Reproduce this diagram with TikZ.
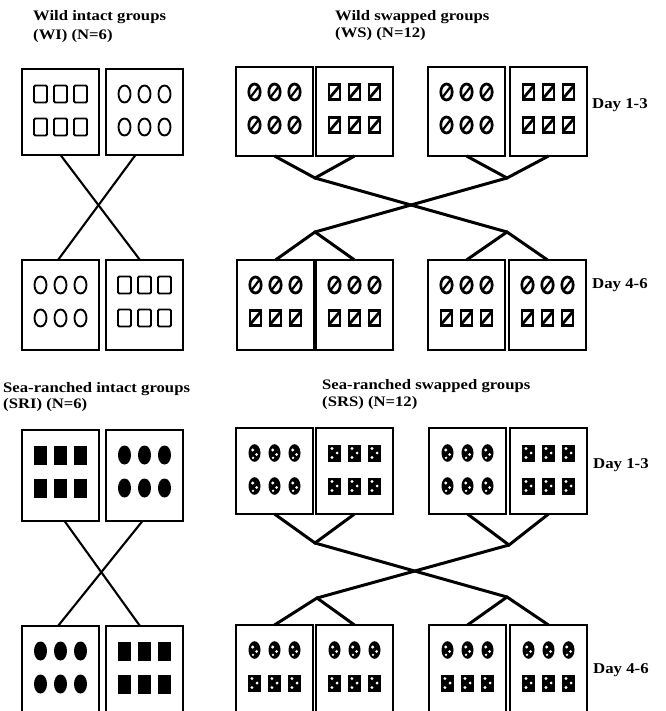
\documentclass[tikz,border=0pt]{standalone}
\usepackage{fontspec}
\setmainfont{Liberation Serif}
\newfontfamily\titlefont[FakeStretch=1.15]{Liberation Serif}
\newfontfamily\dayfont[FakeStretch=1.12]{Liberation Serif}
\usetikzlibrary{calc}
\tikzset{
 fbox/.style={draw, line width=1.9pt, minimum width=77pt, minimum height=#1, inner sep=0pt, outer sep=0pt, anchor=north west},
 ttl/.style={font=\titlefont\bfseries\fontsize{14.5}{16}\selectfont, anchor=base west, inner sep=0pt},
 daylbl/.style={font=\dayfont\bfseries\fontsize{15}{18}\selectfont, anchor=base west, inner sep=0pt},
 thinlink/.style={line width=2.1pt},
 thicklink/.style={line width=3pt, line join=miter},
}
\newcommand\symOR[2]{\draw[line width=1.9pt, rounded corners=1.2pt] ({#1-6.5},{#2-8.5}) rectangle ({#1+6.5},{#2+8.5});}
\newcommand\symOE[2]{\draw[line width=1.9pt] ({#1},{#2}) ellipse [x radius=6pt, y radius=8.5pt];}
\newcommand\symSE[2]{\draw[line width=2.7pt] ({#1},{#2}) ellipse [x radius=5.7pt, y radius=8pt]; \draw[line width=2.2pt] ({#1-4.2},{#2+5.5}) -- ({#1+4.2},{#2-5.5});}
\newcommand\symSR[2]{\draw[line width=2.8pt] ({#1-5.5},{#2-7.5}) rectangle ({#1+5.5},{#2+7.5}); \draw[line width=2.8pt] ({#1-5.5},{#2+6.5}) -- ({#1+5.5},{#2-6.5});}
\newcommand\symFR[2]{\fill ({#1-6.5},{#2-9.5}) rectangle ({#1+6.5},{#2+9.5});}
\newcommand\symFE[2]{\fill ({#1},{#2}) ellipse [x radius=6.5pt, y radius=9.5pt];}
\newcommand\symDE[2]{\fill ({#1},{#2}) ellipse [x radius=6pt, y radius=8.8pt]; \fill[white] ({#1-1.8},{#2-3}) circle [radius=1.7pt] ({#1+2.2},{#2+1.5}) circle [radius=1.5pt] ({#1-1.5},{#2+4.8}) circle [radius=1.3pt];}
\newcommand\symDR[2]{\fill ({#1-6.3},{#2-8.5}) rectangle ({#1+6.3},{#2+8.5}); \fill[white] ({#1-2.6},{#2-4.5}) circle [radius=1.6pt] ({#1+2.6},{#2}) circle [radius=1.6pt] ({#1-2.6},{#2+4.5}) circle [radius=1.6pt];}
\newcommand\fishbox[6]{%
  \node[fbox=#4pt] (#1) at (#2,#3) {};
  \foreach \cx in {-20,0,20}{%
    #5{#2+38.5+\cx}{#3+25}%
    #6{#2+38.5+\cx}{#3+58}%
  }%
}
\begin{document}
\begin{tikzpicture}[x=1pt,y=-1pt]
\useasboundingbox (0,0) rectangle (665,711);
\clip (0,0) rectangle (665,711);
% titles
\node[ttl] (tWI1) at (33,21) {Wild intact groups};
\node[ttl] (tWI2) at (33,40) {(WI) (N=6)};
\node[ttl] (tWS1) at (335,21) {Wild swapped groups};
\node[ttl] (tWS2) at (335,38) {(WS) (N=12)};
\node[ttl] (tSRI1) at (3,392) {Sea-ranched intact groups};
\node[ttl] (tSRI2) at (3,408) {(SRI) (N=6)};
\node[ttl] (tSRS1) at (322,389) {Sea-ranched swapped groups};
\node[ttl] (tSRS2) at (322,406) {(SRS) (N=12)};
% day labels
\node[daylbl] (d1) at (592,109) {Day 1-3};
\node[daylbl] (d2) at (592,288) {Day 4-6};
\node[daylbl] (d3) at (593,468) {Day 1-3};
\node[daylbl] (d4) at (593,673) {Day 4-6};
% WI
\fishbox{wiA}{22}{69}{86}{\symOR}{\symOR}
\fishbox{wiB}{106}{69}{86}{\symOE}{\symOE}
\fishbox{wiC}{22}{260}{90}{\symOE}{\symOE}
\fishbox{wiD}{106}{260}{90}{\symOR}{\symOR}
% WS
\fishbox{wsA}{236}{67}{89}{\symSE}{\symSE}
\fishbox{wsB}{316}{67}{89}{\symSR}{\symSR}
\fishbox{wsC}{428}{67}{89}{\symSE}{\symSE}
\fishbox{wsD}{510}{67}{89}{\symSR}{\symSR}
\fishbox{wsE}{237}{260}{90}{\symSE}{\symSR}
\fishbox{wsF}{316}{260}{90}{\symSE}{\symSR}
\fishbox{wsG}{428}{260}{90}{\symSE}{\symSR}
\fishbox{wsH}{509}{260}{90}{\symSE}{\symSR}
% SRI
\fishbox{sriA}{22}{430}{91}{\symFR}{\symFR}
\fishbox{sriB}{106}{430}{91}{\symFE}{\symFE}
\fishbox{sriC}{22}{626}{90}{\symFE}{\symFE}
\fishbox{sriD}{106}{626}{90}{\symFR}{\symFR}
% SRS
\fishbox{srsA}{236}{428}{86}{\symDE}{\symDE}
\fishbox{srsB}{316}{428}{86}{\symDR}{\symDR}
\fishbox{srsC}{429}{428}{86}{\symDE}{\symDE}
\fishbox{srsD}{510}{428}{86}{\symDR}{\symDR}
\fishbox{srsE}{236}{625}{90}{\symDE}{\symDR}
\fishbox{srsF}{316}{625}{90}{\symDE}{\symDR}
\fishbox{srsG}{429}{625}{90}{\symDE}{\symDR}
\fishbox{srsH}{510}{625}{90}{\symDE}{\symDR}
% WI cross
\draw[thinlink] (wiA.south) -- ($(wiD.north)+(-4.5,0)$);
\draw[thinlink] ($(wiB.south)+(-9,0)$) -- ($(wiC.north)+(-2.5,0)$);
% SRI cross
\draw[thinlink] ($(sriA.south)+(4,0)$) -- ($(sriD.north)+(-4.5,0)$);
\draw[thinlink] ($(sriB.south)+(-2,0)$) -- ($(sriC.north)+(-2.5,0)$);
% WS swaps
\coordinate (wsj1) at (315,178);
\coordinate (wsj2) at (507,178);
\coordinate (wsj3) at (315,232);
\coordinate (wsj4) at (507,232);
\draw[thicklink] (wsA.south) -- (wsj1) -- (wsB.south);
\draw[thicklink] (wsC.south) -- (wsj2) -- (wsD.south);
\draw[thicklink] (wsj1) -- (wsj4);
\draw[thicklink] (wsj2) -- (wsj3);
\draw[thicklink] (wsE.north) -- (wsj3) -- (wsF.north);
\draw[thicklink] (wsG.north) -- (wsj4) -- (wsH.north);
% SRS swaps
\coordinate (srsj1) at (315,543);
\coordinate (srsj2) at (509,545);
\coordinate (srsj3) at (317,598);
\coordinate (srsj4) at (507,597);
\draw[thicklink] (srsA.south) -- (srsj1) -- (srsB.south);
\draw[thicklink] (srsC.south) -- (srsj2) -- (srsD.south);
\draw[thicklink] (srsj1) -- (srsj4);
\draw[thicklink] (srsj2) -- (srsj3);
\draw[thicklink] (srsE.north) -- (srsj3) -- (srsF.north);
\draw[thicklink] (srsG.north) -- (srsj4) -- (srsH.north);
\end{tikzpicture}
\end{document}
